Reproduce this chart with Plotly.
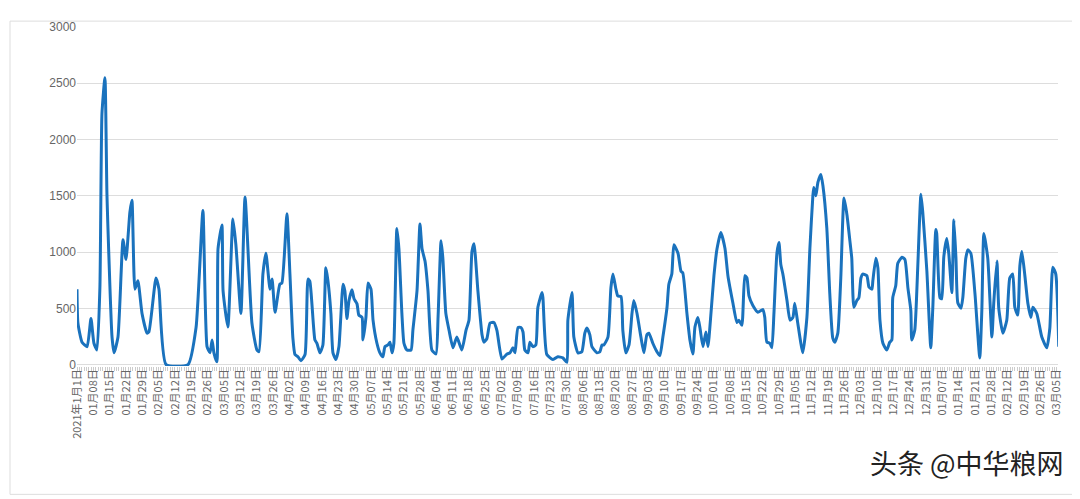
import plotly.graph_objects as go
import pandas as pd

# x positions read as days from the start, on a 2.29 px/day reading; rescaled to category index
read_scale = 0.9814
day_offset = [0,0.4,2.2,4.4,6.1,7.4,8.7,10,10.9,12.2,13.1,15.3,16.2,17.9,20.1,21.4,23.1,24,25.3,26.6,28.4,30.6,31.4,34.5,35.8,38.9,48.5,52,55,56.8,58.1,59,59.8,61.1,61.6,63.3,63.8,65.9,68.1,69.4,71.6,73.4,76.4,78.6,79.5,81.2,82.5,84.3,85.2,86.5,88.6,89.5,91.7,93,94.3,95.2,96.5,97.8,99.6,100.9,101.7,103.9,104.8,106.1,107.4,108.7,109.6,110.9,111.8,113.1,114.4,116.2,117,117.9,118.8,120.1,121,122.3,123.1,124.5,124.9,126.2,127.1,128.4,129.3,131,132.3,133.6,134.5,135.8,136.7,137.6,138.4,139.7,140.6,141.9,142.8,144.1,145.9,146.7,148.5,149.8,150.7,152,153.3,155,156.8,157.7,159,159.8,161.1,162.5,164.2,165.9,168.1,169.9,171.2,172.5,173.4,175.1,176.9,177.7,179,180.4,182.1,183.4,185.6,187.8,189.1,190.4,191.3,192.6,193.9,194.8,195.6,197,197.8,199.1,200.4,201.3,203.1,203.5,205.2,207.9,210,212.2,214,214.4,216.2,217,218.8,220.5,221.8,222.7,224,224.9,227.1,228.4,229.3,230.1,231.9,233.2,234.1,235.4,236.2,237.6,238.4,239.7,241.1,242.4,243.2,244.6,246.3,247.6,248.9,249.8,251.5,253.3,254.6,255.9,257.7,258.5,259.8,260.7,262.5,263.8,264.6,266.4,267.7,269,269.9,271.2,272.1,273.4,274.7,275.6,276.9,278.2,279.5,281.2,283,284.3,286.5,288.2,289.1,290.4,291.7,292.6,293.5,295.2,297.4,299.6,300.4,301.3,302.6,303.5,304.4,305.7,306.6,307.4,308.3,310.1,311.4,312.7,313.5,314.8,317,318.8,320.1,321.4,321.8,322.7,323.6,324.9,325.8,327.5,328.8,330.1,331,332.3,333.6,335,336.3,337.6,338.4,339.3,340.6,341.5,342.4,343.2,345,345.9,347.2,347.6,348.9,349.8,350.7,352,353.7,355,355.9,356.3,357.6,358.5,360.3,361.6,362.9,364.2,364.6,365.9,367.2,368.6,369.4,371.2,372.9,373.8,375.1,375.5,376.9,377.7,378.6,379.9,380.8,382.1,383,383.9,384.7,386.1,386.9,388.2,389.1,390.4,392.2,394.3,395.2,396.1,397.8,399.6,400.4,401.8,402.6,404.4,406.1,407.4,408.7,409.6,410.9,411.8,412.7,414,415.3,416.6,417.5,419.2,421.4,423.6,424.9,426.2,427.5,428.8]
values = [670,370,200,160,410,190,130,685,2230,2550,1500,245,105,245,1110,935,1355,1460,670,745,455,280,290,770,670,0,0,330,1370,160,105,220,105,25,1030,1240,655,335,1295,1065,455,1490,370,130,115,805,990,670,760,465,715,725,1340,805,235,90,70,35,90,760,740,220,190,105,175,860,745,455,105,45,160,715,655,410,570,665,585,540,440,420,220,420,725,670,395,190,105,70,160,175,200,105,190,1210,1030,455,190,130,130,305,655,1250,1030,920,655,130,95,420,1100,945,455,305,150,245,130,305,395,1005,1075,655,265,200,230,370,375,305,50,95,105,150,105,330,330,290,130,105,200,160,175,510,640,595,90,45,70,60,20,395,640,245,105,115,280,325,265,160,105,115,175,175,245,685,805,670,610,605,305,105,175,455,570,455,245,105,265,280,190,115,80,245,510,715,805,1065,990,830,815,455,220,95,335,420,325,160,290,160,455,790,1025,1175,1035,790,545,375,395,350,790,770,610,525,465,490,420,200,190,150,455,990,1085,890,805,570,395,420,545,370,105,420,1030,1500,1575,1500,1620,1690,1590,1210,630,235,200,280,770,1480,1330,1095,945,510,570,595,770,805,790,690,670,745,945,860,395,190,130,200,220,595,700,900,955,935,685,480,220,305,860,1515,1355,830,150,510,1200,1165,595,585,960,1120,980,640,1285,945,550,500,595,945,1020,990,630,60,480,1165,945,245,545,920,500,280,395,770,805,510,440,875,1005,790,545,420,510,455,245,150,325,865,805,160]

# category dates: daily, with the 2022 Spring Festival days absent
all_days = pd.date_range("2021-01-01", "2022-03-06", freq="D")
gap_days = pd.date_range("2022-01-31", "2022-02-07", freq="D")
dates = all_days.difference(gap_days)
n_cat = len(dates)
tick_idx = list(range(0, n_cat, 7))
tick_text = ["2021年1月1日"] + [f"{dates[i].month:02d}月{dates[i].day:02d}日" for i in tick_idx[1:]]
y_ticks = [0, 500, 1000, 1500, 2000, 2500, 3000]

x_idx = [d * read_scale for d in day_offset]

fig = go.Figure(go.Scatter(
    x=x_idx, y=values, mode="lines", cliponaxis=False,
    line=dict(color="#1a72bd", width=3, shape="spline", smoothing=0.5),
    hoverinfo="skip"))

L, R, T, B = 69, 30, 12, 141
pw, ph = 1080 - L - R, 499 - T - B
fig.update_layout(
    width=1080, height=499,
    margin=dict(l=L, r=R, t=T, b=B),
    plot_bgcolor="white", paper_bgcolor="white",
    showlegend=False,
    font=dict(family="Noto Sans CJK SC, Liberation Sans, sans-serif", color="#666666", size=11),
    xaxis=dict(range=[0, 420.5], tickvals=tick_idx, ticktext=tick_text, tickangle=-90,
               showgrid=False, zeroline=False, showline=False, ticks="",
               tickfont=dict(size=11, color="#666666"),
               minor=dict(dtick=1, tick0=0, ticks="outside", ticklen=4, tickcolor="#cccccc", tickwidth=1, showgrid=False)),
    yaxis=dict(range=[-12, 3000], tickvals=y_ticks, showgrid=True, gridcolor="#dddddd",
               zeroline=False, showline=False, ticks="",
               tickfont=dict(family="Liberation Sans, Arial, sans-serif", size=12, color="#666666")),
    shapes=[dict(type="rect", xref="paper", yref="paper", x0=-(L-2)/pw, x1=1+(R-14)/pw, y0=-(B-10)/ph, y1=1+(T-6)/ph,
                 line=dict(color="#dddddd", width=1), fillcolor="rgba(0,0,0,0)", layer="below")],
    annotations=[dict(text="头条 @中华粮网", xref="paper", yref="paper", x=1+(R-22)/pw, y=-(465-8-358)/ph,
                      xanchor="right", yanchor="middle", showarrow=False,
                      font=dict(family="Noto Sans CJK SC", size=27, color="#222222"))],
)
fig.write_html("out.html")
